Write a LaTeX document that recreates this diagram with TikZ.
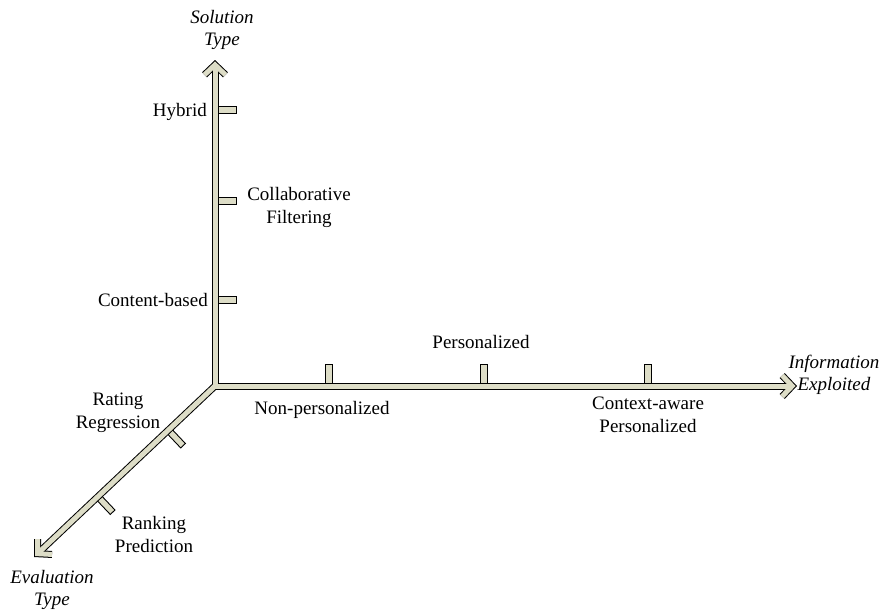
\documentclass[tikz,border=0pt]{standalone}
\usepackage{fontspec}
\setmainfont{Liberation Serif}
\usetikzlibrary{positioning, arrows.meta, calc}
\definecolor{AxisBeige}{RGB}{221,221,199}

\begin{document}
\begin{tikzpicture}[x=1pt, y=-1pt]
        \tikzstyle{txt} = [font=\fontsize{19}{23}\selectfont, align=center, inner sep=0pt]
        \tikzstyle{axisname} = [txt, font=\fontsize{19}{22}\selectfont\itshape]
        \tikzstyle{tickbar} = [rectangle, draw=black, fill=AxisBeige, line width=0.9pt,
          minimum width=21pt, minimum height=6.5pt, inner sep=0pt, anchor=west]
        \tikzstyle{axisout} = [line width=7pt, draw=black, -{Straight Barb[length=10pt, width=21pt]}]
        \tikzstyle{axisin} = [line width=5pt, draw=AxisBeige, shorten >=1.4pt,
          -{Straight Barb[length=10pt, width=21pt]}]

        \useasboundingbox (0,0) rectangle (881,614);

        \coordinate (origin) at (215,386);
        \coordinate (ytip) at (215,60);
        \coordinate (xtip) at (797,386);
        \coordinate (ztip) at (34,557);

        % tick marks
        \foreach \y [count=\i] in {110,201,300}
          \node[tickbar] (ytick\i) at (215,\y) {};
        \foreach \x [count=\i] in {329,484,648}
          \node[tickbar, rotate=90] (xtick\i) at (\x,386) {};
        \foreach \t [count=\i] in {0.258,0.647}
          \node[tickbar, rotate=-46.6] (ztick\i) at ($(origin)!\t!(ztip)$) {};

        % axes
        \foreach \tip in {ytip,xtip,ztip}
          \draw[axisout] (origin) -- (\tip);
        \foreach \tip in {ytip,xtip,ztip}
          \draw[axisin] (origin) -- (\tip);

        % axis names
        \node[axisname] (ytitle) at (222,30) {Solution\\Type};
        \node[axisname] (xtitle) at (834,375) {Information\\Exploited};
        \node[axisname] (ztitle) at (52,590) {Evaluation\\Type};

        % categories
        \node[txt, anchor=east] (hybrid) at (207,112) {Hybrid};
        \node[txt] (collab) at (299,207) {Collaborative\\Filtering};
        \node[txt, anchor=east] (content) at (208,300) {Content-based};
        \node[txt] (pers) at (481,342) {Personalized};
        \node[txt] (nonpers) at (322,410) {Non-personalized};
        \node[txt] (ctxpers) at (648,415) {Context-aware\\Personalized};
        \node[txt] (rating) at (118,413) {Rating\\Regression};
        \node[txt] (ranking) at (154,534) {Ranking\\Prediction};
      \end{tikzpicture}
\end{document}
